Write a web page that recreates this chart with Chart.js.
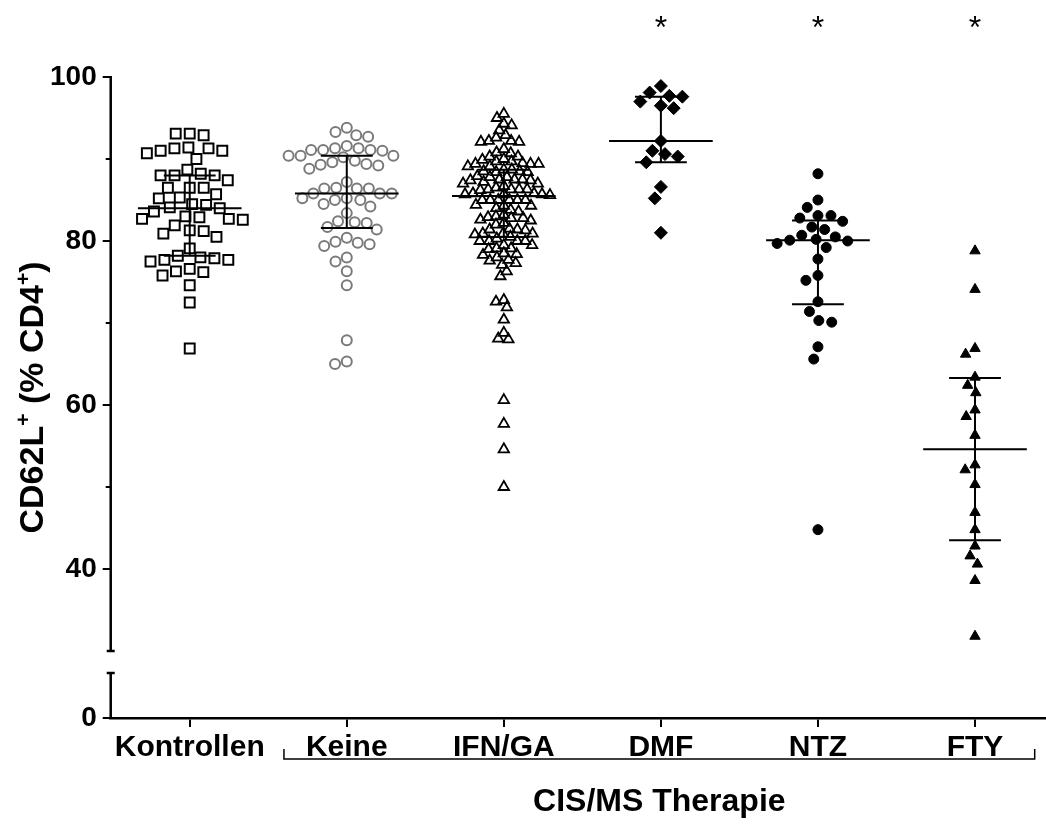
<!DOCTYPE html>
<html>
<head>
<meta charset="utf-8">
<script src="https://cdn.jsdelivr.net/npm/chart.js@4.4.0/dist/chart.umd.min.js"></script>
<style>
  html, body { margin: 0; background: #fff; }
</style>
</head>
<body>
<canvas id="chart" width="1046" height="826"></canvas>
<script>
// categories on the x axis
const categories = ["Kontrollen", "Keine", "IFN/GA", "DMF", "NTZ", "FTY"];

// CD62L+ (% CD4+) per group
const kontrollen = [93.1, 92.9, 93.1, 91.3, 91.0, 90.7, 90.0, 91.0, 91.3, 91.4,
  88.2, 88.0, 88.0, 88.0, 88.7, 87.4, 86.5, 86.5, 86.5, 85.3, 85.2, 85.7,
  84.5, 84.1, 83.6, 84.0, 84.4, 82.9, 83.0, 82.7, 82.6, 82.7,
  81.9, 81.2, 80.9, 81.3, 80.5, 79.1, 78.0, 77.7, 77.5, 77.7, 77.9, 78.2,
  76.2, 76.6, 75.8, 76.3, 74.6, 72.5, 66.9];
const keine = [93.8, 93.3, 92.9, 92.7, 91.3, 91.1, 91.6, 91.0, 91.1, 91.1, 91.3,
  90.2, 90.4, 90.4, 90.4, 89.6, 89.3, 89.2, 88.8, 89.4, 89.8, 87.2, 86.5,
  86.4, 85.8, 86.4, 85.8, 85.8, 86.4, 85.0, 85.2, 85.2, 85.0, 84.5, 84.2, 83.4,
  82.3, 81.7, 81.4, 82.2, 82.4, 80.4, 79.8, 79.4, 79.6, 79.9,
  78.0, 77.5, 76.3, 74.6, 67.9, 65.0, 65.3];
const ifnga = [95.5, 95.0, 94.3, 94.1, 93.5, 92.9, 92.6, 92.2, 92.1, 92.1, 92.2,
  91.2, 90.7, 90.8, 89.9, 89.4, 89.5, 90.3, 90.3, 89.7, 89.1, 89.1, 89.7, 89.4,
  90.0, 89.4, 88.5, 88.7, 88.4, 88.4, 88.5, 88.7, 87.5, 87.4, 87.0, 87.9, 87.5,
  87.8, 87.2, 87.4, 87.5, 87.8, 86.3, 85.8, 86.3, 85.7, 86.7, 85.8, 87.0, 86.5,
  86.2, 85.6, 86.3, 85.7, 86.3, 85.7, 84.3, 84.0, 83.6, 85.0, 85.0, 85.0, 85.0,
  85.0, 85.0, 83.2, 83.8, 84.3, 84.4, 82.8, 82.9, 82.5, 82.6, 82.8, 83.0, 82.0,
  82.2, 81.3, 80.9, 81.4, 80.9, 81.4, 80.8, 81.5, 80.9, 80.5, 80.3, 80.0, 80.0,
  80.0, 80.0, 79.5, 79.1, 79.5, 79.1, 79.0, 78.4, 78.0, 77.6, 77.7, 78.3, 78.5,
  77.3, 77.1, 76.3, 75.7, 72.6, 71.9, 72.8, 70.4, 68.8, 68.0, 68.1,
  60.6, 57.7, 54.6, 50.0];
const dmf = [98.9, 97.7, 98.1, 97.6, 97.0, 96.5, 96.2, 92.2, 90.6, 91.0, 90.3,
  89.6, 86.6, 85.2, 81.0];
const ntz = [88.2, 85.0, 84.1, 83.1, 83.1, 82.4, 82.8, 81.7, 81.4, 80.5, 80.7,
  80.1, 79.7, 80.0, 80.2, 79.2, 77.8, 75.8, 75.2, 72.6, 71.4, 70.1, 70.3,
  67.1, 65.6, 44.8];
const fty = [78.8, 74.1, 66.2, 66.9, 63.4, 62.4, 61.5, 59.4, 58.6, 56.3, 52.7,
  52.1, 50.3, 46.9, 44.8, 42.8, 41.6, 40.6, 38.6, 31.8];

// median and interquartile range drawn in the figure
const medians = [84.0, 85.8, 85.5, 92.2, 80.1, 54.6];
const q3 = [88.0, 90.4, 88.7, 97.6, 82.5, 63.3];
const q1 = [78.2, 81.6, 80.5, 89.6, 72.3, 43.5];

// groups marked with * above them
const significant = ["DMF", "NTZ", "FTY"];

// y axis ticks (broken axis)
const yTicksUpper = [40, 60, 80, 100];
const yMinorUpper = [50, 70, 90];
const yTicksLower = [0];

const groups = [kontrollen, keine, ifnga, dmf, ntz, fty];

// layout constants
const PX_PER_Y = 8.2;     // pixels per % on the upper segment
const PX_PER_CAT = 157;   // pixels between category centres
const FONT = "'Liberation Sans', Arial, sans-serif";

// simple beeswarm: horizontal pixel offsets so markers do not pile up
function swarm(values, d) {
  const order = values.map((v, i) => i).sort((a, b) => values[b] - values[a]);
  const placed = [];
  const off = new Array(values.length);
  for (const i of order) {
    const y = values[i] * PX_PER_Y;
    const blocks = [];
    for (const p of placed) {
      const dy = Math.abs(p.y - y);
      if (dy < d) {
        const w = Math.sqrt(d * d - dy * dy);
        blocks.push([p.x - w, p.x + w]);
      }
    }
    const cands = [0];
    blocks.forEach(b => cands.push(b[0], b[1]));
    cands.sort((a, b) => Math.abs(a) - Math.abs(b));
    let x = 0;
    for (const c of cands) {
      if (blocks.every(b => c <= b[0] + 1e-6 || c >= b[1] - 1e-6)) { x = c; break; }
    }
    placed.push({ x, y });
    off[i] = x;
  }
  return off;
}

const markerStyles = [
  { pointStyle: "rect", pointRadius: 7, borderColor: "#000", backgroundColor: "rgba(0,0,0,0)", borderWidth: 2, gap: 14 },
  { pointStyle: "circle", pointRadius: 5, borderColor: "#7a7a7a", backgroundColor: "rgba(0,0,0,0)", borderWidth: 2, gap: 12 },
  { pointStyle: "triangle", pointRadius: 6, borderColor: "#000", backgroundColor: "rgba(0,0,0,0)", borderWidth: 1.8, gap: 8 },
  { pointStyle: "rectRot", pointRadius: 6.5, borderColor: "#000", backgroundColor: "#000", borderWidth: 1, gap: 13 },
  { pointStyle: "circle", pointRadius: 5, borderColor: "#000", backgroundColor: "#000", borderWidth: 1, gap: 13 },
  { pointStyle: "triangle", pointRadius: 6, borderColor: "#000", backgroundColor: "#000", borderWidth: 1, gap: 11 },
];

const pointSets = groups.map((vals, gi) => {
  const st = markerStyles[gi];
  const off = swarm(vals, st.gap);
  return {
    type: "scatter",
    label: categories[gi],
    data: vals.map((v, i) => ({ x: gi + off[i] / PX_PER_CAT, y: v })),
    pointStyle: st.pointStyle,
    pointRadius: st.pointRadius,
    pointBorderColor: st.borderColor,
    pointBackgroundColor: st.backgroundColor,
    pointBorderWidth: st.borderWidth,
    yAxisID: "y",
    order: 2,
  };
});

// median and IQR whiskers as line segments (gaps between groups)
const medHalf = 0.33, capHalf = 0.165;
const medData = [], capData = [], barData = [];
categories.forEach((c, i) => {
  medData.push({ x: i - medHalf, y: medians[i] }, { x: i + medHalf, y: medians[i] }, { x: i, y: null });
  capData.push({ x: i - capHalf, y: q3[i] }, { x: i + capHalf, y: q3[i] }, { x: i, y: null });
  capData.push({ x: i - capHalf, y: q1[i] }, { x: i + capHalf, y: q1[i] }, { x: i, y: null });
  barData.push({ x: i, y: q1[i] }, { x: i, y: q3[i] }, { x: i, y: null });
});
const lineSet = (data, w) => ({
  type: "line", data, borderColor: "#000", borderWidth: w, pointRadius: 0,
  spanGaps: false, fill: false, yAxisID: "y", order: 1,
});

// extra drawing: broken y axis, minor ticks, asterisks, bracket, axis title
const decor = {
  id: "decor",
  afterDraw(chart) {
    const { ctx, chartArea, scales } = chart;
    const y = scales.y, yl = scales.yLow, x = scales.x;
    const ax = chartArea.left;
    ctx.save();
    ctx.strokeStyle = "#000";
    ctx.lineWidth = 2.5;
    ctx.beginPath();
    ctx.moveTo(ax, y.getPixelForValue(100) - 1);
    ctx.lineTo(ax, y.getPixelForValue(30));
    ctx.moveTo(ax - 4, y.getPixelForValue(30));
    ctx.lineTo(ax + 4, y.getPixelForValue(30));
    ctx.moveTo(ax - 4, yl.getPixelForValue(5.5));
    ctx.lineTo(ax + 4, yl.getPixelForValue(5.5));
    ctx.moveTo(ax, yl.getPixelForValue(5.5));
    ctx.lineTo(ax, yl.getPixelForValue(0));
    ctx.stroke();
    ctx.lineWidth = 2;
    ctx.beginPath();
    yMinorUpper.forEach(v => {
      const py = y.getPixelForValue(v);
      ctx.moveTo(ax - 5, py);
      ctx.lineTo(ax, py);
    });
    ctx.stroke();

    // asterisks
    ctx.fillStyle = "#000";
    ctx.font = "32px " + FONT;
    ctx.textAlign = "center";
    ctx.textBaseline = "middle";
    significant.forEach(name => {
      const i = categories.indexOf(name);
      ctx.fillText("*", x.getPixelForValue(i), y.getPixelForValue(106.5) + 5);
    });

    // bracket under the therapy groups
    const bx0 = x.getPixelForValue(0.6), bx1 = x.getPixelForValue(5.38);
    const by = chartArea.bottom + 41;
    ctx.lineWidth = 1.5;
    ctx.beginPath();
    ctx.moveTo(bx0, by - 10);
    ctx.lineTo(bx0, by);
    ctx.lineTo(bx1, by);
    ctx.lineTo(bx1, by - 10);
    ctx.stroke();
    ctx.font = "bold 32px " + FONT;
    ctx.fillText("CIS/MS Therapie", (bx0 + bx1) / 2, chartArea.bottom + 84);

    // y axis title with superscripts
    const parts = [["CD62L", false], ["+", true], [" (% CD4", false], ["+", true], [")", false]];
    const big = "bold 34px " + FONT, small = "bold 21px " + FONT;
    let total = 0;
    parts.forEach(p => { ctx.font = p[1] ? small : big; total += ctx.measureText(p[0]).width; });
    ctx.translate(31, (chartArea.top + chartArea.bottom) / 2);
    ctx.rotate(-Math.PI / 2);
    ctx.textAlign = "left";
    ctx.textBaseline = "alphabetic";
    let cx = -total / 2;
    parts.forEach(p => {
      ctx.font = p[1] ? small : big;
      ctx.fillText(p[0], cx, p[1] ? -1 : 12);
      cx += ctx.measureText(p[0]).width;
    });
    ctx.restore();
  }
};

const tickFont = { family: FONT, size: 28, weight: "bold" };

new Chart(document.getElementById("chart"), {
  type: "scatter",
  data: {
    datasets: [
      lineSet(medData, 2),
      lineSet(capData, 2),
      lineSet(barData, 2),
      ...pointSets,
    ],
  },
  options: {
    responsive: false,
    animation: false,
    devicePixelRatio: 1,
    layout: { autoPadding: false, padding: { top: 77, left: 44, right: 0, bottom: 57 } },
    plugins: { legend: { display: false }, tooltip: { enabled: false } },
    scales: {
      x: {
        type: "linear",
        min: -0.503,
        max: 5.452,
        afterBuildTicks: s => { s.ticks = categories.map((c, i) => ({ value: i })); },
        afterFit: s => { s.paddingLeft = 0; s.paddingRight = 0; },
        ticks: {
          callback: v => categories[v],
          color: "#000",
          font: { family: FONT, size: 30, weight: "bold" },
          padding: 3,
          maxRotation: 0,
          autoSkip: false,
        },
        grid: { drawOnChartArea: false, drawTicks: true, tickLength: 9, color: "#000", lineWidth: 2 },
        border: { display: true, color: "#000", width: 2.5 },
      },
      yLow: {
        type: "linear",
        position: "left",
        stack: "v",
        stackWeight: 56,
        min: 0,
        max: 6.83,
        afterBuildTicks: s => { s.ticks = yTicksLower.map(v => ({ value: v })); },
        ticks: { color: "#000", font: tickFont, padding: 6 },
        grid: { drawOnChartArea: false, drawTicks: true, tickLength: 8, color: "#000", lineWidth: 2 },
        border: { display: false },
      },
      y: {
        type: "linear",
        position: "left",
        stack: "v",
        stackWeight: 585,
        min: 28.66,
        max: 100,
        afterBuildTicks: s => { s.ticks = yTicksUpper.map(v => ({ value: v })); },
        ticks: { color: "#000", font: tickFont, padding: 6 },
        grid: { drawOnChartArea: false, drawTicks: true, tickLength: 8, color: "#000", lineWidth: 2 },
        border: { display: false },
      },
    },
  },
  plugins: [decor],
});
</script>
</body>
</html>
